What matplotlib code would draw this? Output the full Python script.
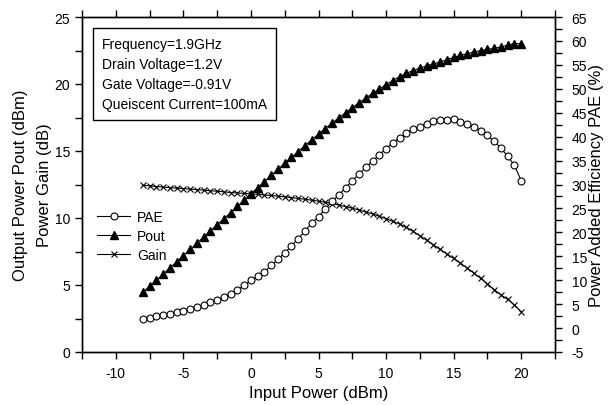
import numpy as np
import matplotlib
matplotlib.use("Agg")
from matplotlib import pyplot as plt
from matplotlib.ticker import MultipleLocator

plt.rcParams['font.family'] = ['Liberation Sans', 'DejaVu Sans']
plt.rcParams['axes.unicode_minus'] = False

# input power sweep (dBm), 0.5 dB steps
pin = [-8.0, -7.5, -7.0, -6.5, -6.0, -5.5, -5.0, -4.5, -4.0, -3.5,
       -3.0, -2.5, -2.0, -1.5, -1.0, -0.5, 0.0, 0.5, 1.0, 1.5,
       2.0, 2.5, 3.0, 3.5, 4.0, 4.5, 5.0, 5.5, 6.0, 6.5,
       7.0, 7.5, 8.0, 8.5, 9.0, 9.5, 10.0, 10.5, 11.0, 11.5,
       12.0, 12.5, 13.0, 13.5, 14.0, 14.5, 15.0, 15.5, 16.0, 16.5,
       17.0, 17.5, 18.0, 18.5, 19.0, 19.5, 20.0]

# output power (dBm)
pout = [4.45, 4.90, 5.35, 5.80, 6.27, 6.73, 7.20, 7.65, 8.12, 8.58,
        9.03, 9.50, 9.95, 10.40, 10.87, 11.33, 11.80, 12.26, 12.72, 13.18,
        13.63, 14.08, 14.52, 14.96, 15.40, 15.83, 16.25, 16.67, 17.08, 17.47,
        17.85, 18.23, 18.60, 18.95, 19.30, 19.63, 19.95, 20.25, 20.55, 20.80,
        21.00, 21.18, 21.35, 21.50, 21.65, 21.81, 21.98, 22.13, 22.26, 22.38,
        22.50, 22.58, 22.66, 22.76, 22.90, 23.02, 23.00]

# power gain (dB)
gain = [12.45, 12.40, 12.35, 12.30, 12.27, 12.23, 12.20, 12.15, 12.12, 12.08,
        12.03, 12.00, 11.95, 11.90, 11.87, 11.83, 11.80, 11.76, 11.72, 11.68,
        11.63, 11.58, 11.52, 11.46, 11.40, 11.33, 11.25, 11.17, 11.08, 10.97,
        10.85, 10.73, 10.60, 10.45, 10.30, 10.13, 9.95, 9.75, 9.55, 9.30,
        9.00, 8.68, 8.35, 8.00, 7.65, 7.31, 6.98, 6.63, 6.26, 5.88,
        5.50, 5.08, 4.66, 4.26, 3.93, 3.52, 3.00]

# power added efficiency (%)
pae = [1.95, 2.20, 2.42, 2.67, 2.95, 3.27, 3.63, 3.98, 4.35, 4.85,
       5.40, 5.95, 6.55, 7.20, 7.95, 8.90, 9.95, 10.80, 11.70, 13.10,
       14.40, 15.70, 17.20, 18.70, 20.30, 21.90, 23.30, 24.80, 26.45, 27.80,
       29.30, 30.80, 32.20, 33.60, 34.90, 36.20, 37.50, 38.70, 39.80, 40.70,
       41.50, 42.10, 42.70, 43.20, 43.40, 43.50, 43.60, 43.15, 42.70, 42.05,
       41.25, 40.30, 39.00, 37.60, 35.90, 34.00, 30.80]

infoText = ["Frequency=1.9GHz", "Drain Voltage=1.2V",
            "Gate Voltage=-0.91V", "Queiscent Current=100mA"]

W, H = 609, 406
fig = plt.figure(figsize=(W / 100, H / 100), dpi=100)
ax = fig.add_axes([82 / W, 1 - 353 / H, (555 - 82) / W, (353 - 18) / H])
ax2 = ax.twinx()

lw = 0.8
lPout, = ax.plot(pin, pout, '-', color='black', lw=lw, marker='^',
                 markersize=5.5, markerfacecolor='black', label='Pout')
lGain, = ax.plot(pin, gain, '-', color='black', lw=lw, marker='x',
                 markersize=5, markeredgewidth=0.8, label='Gain')
lPae, = ax2.plot(pin, pae, '-', color='black', lw=lw, marker='o',
                 markersize=5, markerfacecolor='white',
                 markeredgewidth=0.8, label='PAE')

ax.set_xlim(-12.5, 22.5)
ax.set_ylim(0, 25)
ax2.set_ylim(-5, 65)

ax.xaxis.set_major_locator(MultipleLocator(5))
ax.xaxis.set_minor_locator(MultipleLocator(2.5))
ax.yaxis.set_major_locator(MultipleLocator(5))
ax.yaxis.set_minor_locator(MultipleLocator(2.5))
ax2.yaxis.set_major_locator(MultipleLocator(5))
ax2.yaxis.set_minor_locator(MultipleLocator(2.5))

ax.tick_params(axis='both', which='both', direction='out', top=True,
               labelsize=10, width=1, length=5)
ax.tick_params(axis='x', pad=5)
ax2.tick_params(axis='y', which='both', direction='out', labelsize=10,
                width=1, length=5, pad=7)

for a in (ax, ax2):
    for s in a.spines.values():
        s.set_linewidth(1)

ax.set_xlabel("Input Power (dBm)", fontsize=12, labelpad=4)
# two-line left label, placed line by line
midY = 1 - 185.5 / H
fig.text(21 / W, midY, "Output Power Pout (dBm)", rotation=90,
         ha='center', va='center', fontsize=12)
fig.text(44 / W, midY, "Power Gain (dB)", rotation=90,
         ha='center', va='center', fontsize=12)
fig.text(597 / W, midY, "Power Added Efficiency PAE (%)", rotation=90,
         ha='center', va='center', fontsize=12)

ax.text((101.7 - 82) / 473, (353 - 38) / 335, "\n".join(infoText),
        transform=ax.transAxes, fontsize=10, va='top', ha='left',
        linespacing=1.55,
        bbox=dict(boxstyle='square,pad=0.65', facecolor='white',
                  edgecolor='black', lw=1))

ax2.legend(handles=[lPae, lPout, lGain], loc='upper left',
           bbox_to_anchor=((97 - 82) / 473, (353 - 211) / 335),
           frameon=False, fontsize=10, handlelength=2.4,
           handletextpad=0.5, labelspacing=0.35, borderpad=0,
           borderaxespad=0)

fig.savefig("out.png", dpi=100)
